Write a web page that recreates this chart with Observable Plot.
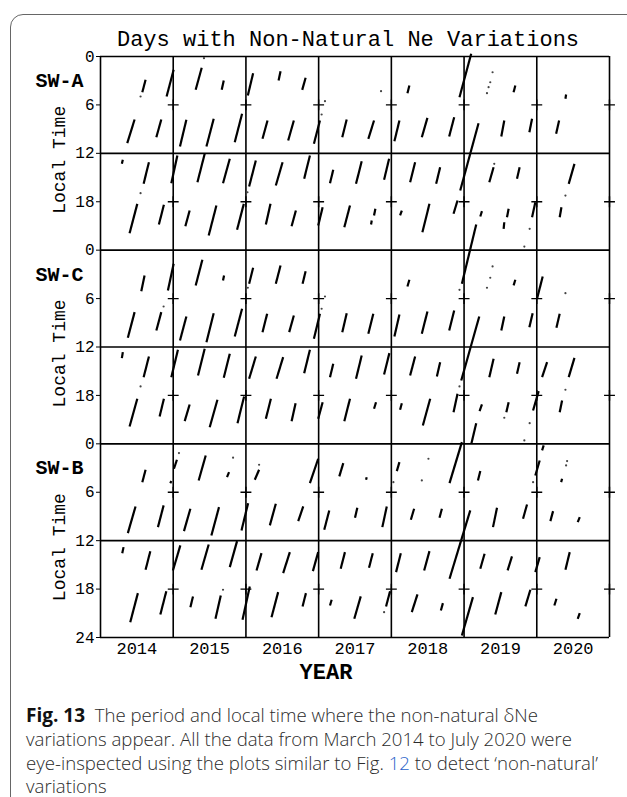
<!DOCTYPE html>
<html><head><meta charset="utf-8">
<script src="https://cdn.jsdelivr.net/npm/d3@7"></script>
<script src="https://cdn.jsdelivr.net/npm/@observablehq/plot@0.6"></script>
<style>
html,body{margin:0;padding:0;background:#fff;width:627px;height:797px;overflow:hidden;}
#box{position:absolute;left:10px;top:14px;width:700px;height:900px;border:1.5px solid #666;border-radius:13px;}
#chart{position:absolute;left:0;top:0;}
#cap{position:absolute;left:26px;top:703px;font-family:"Open Sans","Noto Sans",sans-serif;font-weight:300;font-size:18.6px;line-height:23.4px;color:#2b2b2b;white-space:nowrap;}
#cap b{color:#111;font-weight:700;font-size:19px;}
#cap .ref{color:#2a62c9;}
</style></head><body>
<div id="box"></div>
<div id="chart"></div>
<div id="cap"><b>Fig. 13</b>&nbsp; The period and local time where the non-natural δNe<br>variations appear. All the data from March 2014 to July 2020 were<br>eye-inspected using the plots similar to Fig. <span class="ref">12</span> to detect ‘non-natural’<br>variations</div>
<script>
const title = "Days with Non-Natural Ne Variations";
const panels = ["SW-A", "SW-C", "SW-B"];
const yearLabels = [2014, 2015, 2016, 2017, 2018, 2019, 2020];

// segments: [startYear, startLT, endYear, endLT]
const segA = [
[2014.575,4.42,2014.620,2.89],[2014.909,4.96,2015.006,1.65],[2014.368,10.74,2014.469,7.81],[2014.768,10.00,2014.836,7.81],
[2014.294,13.30,2014.307,12.80],[2014.593,15.78,2014.666,13.10],[2014.400,21.90,2014.506,18.26],[2014.803,20.82,2014.872,18.38],
[2015.309,4.13,2015.392,1.40],[2015.667,4.13,2015.695,2.97],[2015.093,11.15,2015.181,7.84],[2015.457,11.15,2015.557,7.72],
[2015.846,10.62,2015.947,7.10],[2014.974,15.70,2015.057,12.27],[2015.333,15.58,2015.433,12.06],[2015.685,15.70,2015.778,12.68],
[2015.167,21.03,2015.226,19.09],[2015.488,22.18,2015.594,18.47],[2015.878,21.48,2015.971,18.26],
[2016.026,4.83,2016.099,2.07],[2016.449,2.97,2016.476,1.82],[2016.774,4.13,2016.821,2.64],[2016.228,10.20,2016.297,7.93],
[2016.581,10.41,2016.659,7.93],[2016.935,10.82,2017.018,7.93],[2016.044,16.11,2016.136,12.89],[2016.411,15.99,2016.504,13.10],
[2016.801,15.16,2016.880,12.27],[2016.274,20.82,2016.338,18.26],[2016.628,21.03,2016.687,19.09],
[2017.325,10.00,2017.386,7.81],[2017.683,10.20,2017.762,7.93],[2017.156,15.70,2017.201,14.04],[2017.514,15.78,2017.592,12.98],
[2017.900,15.28,2017.969,12.68],[2016.994,20.94,2017.055,18.68],[2017.353,21.15,2017.431,18.47],[2017.762,19.70,2017.780,18.87],
[2017.721,20.82,2017.730,20.32],
[2018.221,4.55,2018.248,3.59],[2018.042,10.50,2018.111,7.93],[2018.419,10.00,2018.496,7.60],[2018.795,9.91,2018.864,7.52],
[2018.937,5.04,2019.098,-0.33],[2018.947,16.61,2019.199,8.27],[2018.258,15.58,2018.327,13.10],[2018.616,15.78,2018.671,13.72],
[2018.120,19.70,2018.144,19.09],[2018.427,21.77,2018.524,18.26],[2018.855,19.49,2018.910,17.85],[2018.970,28.17,2019.167,20.82],
[2019.681,4.42,2019.705,3.59],[2019.512,9.91,2019.553,7.93],[2019.898,9.38,2019.935,7.72],[2019.347,15.58,2019.406,13.72],
[2019.728,15.16,2019.764,13.72],[2019.223,19.83,2019.246,19.17],[2019.590,19.92,2019.613,18.87],[2019.544,21.35,2019.553,20.54],
[2019.935,19.92,2019.980,18.06],
[2020.394,5.24,2020.403,4.71],[2020.266,9.58,2020.307,7.93],[2020.439,15.78,2020.518,13.30],[2020.315,19.92,2020.339,18.68]
];
const segC = [
[2014.561,5.08,2014.606,3.14],[2014.927,5.00,2015.006,1.69],[2014.376,10.86,2014.469,7.68],[2014.768,9.95,2014.836,7.68],
[2014.294,13.38,2014.307,12.64],[2014.593,15.74,2014.666,13.17],[2014.400,21.85,2014.506,18.42],[2014.813,20.61,2014.872,18.42],
[2015.309,4.37,2015.401,1.19],[2015.685,3.76,2015.699,3.14],[2015.093,11.19,2015.181,8.22],[2015.457,11.40,2015.557,7.81],
[2015.846,10.70,2015.947,7.26],[2014.974,15.74,2015.065,12.34],[2015.341,15.53,2015.433,12.22],[2015.695,15.81,2015.778,12.84],
[2015.158,21.19,2015.226,19.12],[2015.502,21.94,2015.608,18.54],[2015.884,21.44,2015.975,18.13],
[2016.044,4.16,2016.099,2.18],[2016.411,4.16,2016.476,1.90],[2016.779,4.16,2016.821,2.60],[2016.228,10.16,2016.292,7.88],
[2016.595,10.16,2016.659,8.09],[2016.935,10.98,2017.018,7.88],[2016.044,15.94,2016.136,13.17],[2016.421,15.94,2016.512,13.26],
[2016.801,15.24,2016.880,12.34],[2016.274,20.90,2016.343,18.42],[2016.628,21.19,2016.683,18.96],
[2017.325,10.16,2017.386,7.81],[2017.683,10.36,2017.752,7.88],[2017.156,15.74,2017.201,14.08],[2017.514,15.94,2017.592,13.05],
[2017.900,15.40,2017.973,12.76],[2016.994,20.90,2017.055,18.84],[2017.353,21.19,2017.431,18.42],[2017.762,19.66,2017.789,18.84],
[2018.221,4.50,2018.248,3.67],[2018.042,10.70,2018.111,7.97],[2018.419,10.36,2018.496,7.60],[2018.795,9.95,2018.864,7.48],
[2018.258,15.53,2018.327,13.17],[2018.626,15.65,2018.671,13.88],[2018.120,19.78,2018.144,18.96],[2018.433,21.73,2018.534,18.42],
[2018.855,20.08,2018.910,17.80],[2018.961,16.15,2019.209,8.22],
[2019.681,4.37,2019.705,3.67],[2019.512,9.95,2019.553,8.22],[2019.898,9.54,2019.943,7.81],[2019.347,15.74,2019.406,13.46],
[2019.728,15.32,2019.764,13.88],[2019.213,19.95,2019.246,19.12],[2019.581,20.08,2019.613,18.84],[2019.949,19.87,2020.026,17.47],
[2019.100,24.00,2019.167,21.44],
[2020.004,6.02,2020.081,3.26],[2020.270,9.62,2020.315,7.88],[2020.073,15.74,2020.142,13.88],[2020.439,15.74,2020.518,13.34],
[2020.315,20.08,2020.348,18.63]
];
const segB = [
[2014.575,4.75,2014.620,3.21],[2014.960,4.87,2014.974,4.62],[2014.376,11.07,2014.482,7.76],[2014.790,10.32,2014.868,7.63],
[2014.299,13.55,2014.317,12.80],[2014.620,15.60,2014.685,13.30],[2014.409,22.10,2014.514,18.50],[2014.823,21.14,2014.905,18.26],
[2015.010,3.09,2015.051,1.97],[2015.350,4.54,2015.447,1.44],[2015.740,4.13,2015.768,3.51],[2015.148,10.82,2015.236,8.04],
[2015.525,11.35,2015.630,7.84],[2015.939,10.73,2016.030,7.35],[2014.996,15.69,2015.098,12.59],[2015.388,15.60,2015.488,12.47],
[2015.778,15.28,2015.878,12.06],[2015.236,20.24,2015.272,18.91],[2015.581,21.68,2015.654,18.79],[2015.953,21.80,2016.053,17.67],
[2016.122,4.45,2016.181,3.21],[2016.880,4.87,2016.994,1.85],[2016.329,10.11,2016.411,7.42],[2016.719,9.58,2016.788,7.76],
[2016.146,15.69,2016.214,13.55],[2016.512,16.02,2016.604,13.42],[2016.921,15.78,2016.994,13.42],[2016.352,21.48,2016.443,18.38],
[2016.779,20.15,2016.825,18.50],
[2017.284,4.04,2017.339,2.39],[2017.652,4.45,2017.661,4.13],[2017.077,10.65,2017.146,8.25],[2017.500,9.16,2017.532,7.92],
[2017.876,10.32,2017.937,7.76],[2017.303,15.48,2017.362,13.42],[2017.693,15.36,2017.744,13.55],[2017.156,20.03,2017.179,19.32],
[2017.490,21.68,2017.579,18.91],[2017.927,20.15,2017.982,18.26],
[2018.075,3.38,2018.111,2.27],[2018.800,4.87,2018.970,-0.21],[2018.268,9.41,2018.313,8.04],[2018.662,9.16,2018.695,8.04],
[2018.065,15.90,2018.130,13.55],[2018.451,15.69,2018.524,13.30],[2018.800,16.72,2019.085,8.25],[2018.281,20.86,2018.359,18.66],
[2018.681,20.65,2018.709,19.74],[2018.970,23.75,2019.122,19.00],
[2019.191,4.54,2019.223,3.38],[2019.398,10.32,2019.453,7.92],[2019.811,9.28,2019.866,7.51],[2019.223,15.48,2019.282,13.62],
[2019.599,15.69,2019.659,13.95],[2019.429,21.14,2019.512,18.38],[2019.843,20.15,2019.912,18.08],[2019.980,15.90,2020.040,14.04],
[2020.073,0.82,2020.095,0.20],[2019.980,3.92,2020.040,2.06],
[2020.335,4.75,2020.348,4.33],[2020.187,9.58,2020.224,8.34],[2020.563,9.70,2020.591,9.08],[2020.394,15.60,2020.453,13.42],
[2020.242,20.03,2020.270,19.20],[2020.563,21.68,2020.591,20.98]
];
// isolated points: [year, LT]
const dotsA = [
[2014.551,4.96],[2014.551,16.94],[2015.423,0.21],[2017.087,5.54],[2017.041,7.19],[2016.021,16.82],[2017.858,4.30],
[2019.392,1.95],[2019.360,3.19],[2019.337,3.80],[2019.315,4.55],[2019.415,13.30],[2019.902,21.35],[2019.829,23.55],[2020.394,17.23]
];
const dotsC = [
[2014.868,6.98],[2014.551,16.89],[2016.026,4.66],[2017.087,5.74],[2017.041,7.26],[2018.937,4.91],[2018.937,16.89],
[2019.392,2.02],[2019.360,3.42],[2019.315,4.66],[2019.553,20.77],[2019.902,21.44],[2019.829,23.58],[2020.394,5.33],[2020.394,17.30]
];
const dotsB = [
[2015.079,1.15],[2015.823,1.72],[2015.685,18.08],[2016.181,2.59],[2017.900,20.86],[2018.510,1.85],[2018.028,4.75],
[2018.419,4.54],[2019.949,4.75],[2020.417,2.14],[2020.403,2.68]
];

const segs = [segA, segC, segB];
const dots = [dotsA, dotsC, dotsB];
const segRows = segs.flatMap((s, p) => s.map(([t1, l1, t2, l2]) => ({t1, t2, y1: p * 24 + l1, y2: p * 24 + l2})));
const dotRows = dots.flatMap((s, p) => s.map(([t, l]) => ({t, y: p * 24 + l})));
const boundaries = d3.range(2014, 2022);
const crosses = boundaries.slice(1).flatMap(x => [0, 1, 2].flatMap(p => [6, 18].map(l => ({x, y: p * 24 + l}))));
const yTicks = d3.range(0, 73, 6);

const chart = Plot.plot({
  width: 627, height: 700,
  marginTop: 56, marginLeft: 100, marginRight: 18, marginBottom: 63,
  style: {fontFamily: '"Courier New","Liberation Mono",monospace', fontSize: "16px", color: "#000", background: "transparent", overflow: "visible"},
  x: {domain: [2014, 2021], ticks: yearLabels.map(y => y + 0.5), tickFormat: d => String(Math.floor(d)), tickSize: 0, tickPadding: 4, label: null},
  y: {domain: [0, 72], reverse: true, ticks: yTicks, tickFormat: d => d === 72 ? "24" : String(d % 24), tickSize: 4, tickPadding: 2, label: null},
  marks: [
    Plot.ruleX(boundaries, {stroke: "#000", strokeWidth: 1.6}),
    Plot.ruleY(d3.range(0, 73, 12), {stroke: "#000", strokeWidth: 1.6}),
    Plot.dot(crosses, {x: "x", y: "y", symbol: "plus", r: 3.6, stroke: "#000", strokeWidth: 1.4}),
    Plot.link(segRows, {x1: "t1", y1: "y1", x2: "t2", y2: "y2", stroke: "#000", strokeWidth: 2.2}),
    Plot.dot(dotRows, {x: "t", y: "y", r: 1.1, fill: "#444", stroke: null}),
    Plot.text(panels, {x: () => 2014, y: (d, i) => i * 24 + 3, dx: -41, text: d => d, fontWeight: "bold", fontSize: 20, textAnchor: "middle", lineAnchor: "middle"}),
    Plot.text(panels, {x: () => 2014, y: (d, i) => i * 24 + 12.8, dx: -41, text: () => "Local Time", rotate: -90, fontSize: 18, textAnchor: "middle", lineAnchor: "middle"}),
    Plot.text([title], {frameAnchor: "top", dy: -18, dx: -7, text: d => d, fontSize: 22, lineAnchor: "middle"}),
    Plot.text(["YEAR"], {frameAnchor: "bottom", dy: 34, dx: -29, text: d => d, fontSize: 22, fontWeight: "bold", lineAnchor: "middle"})
  ]
});
document.getElementById("chart").appendChild(chart);
d3.select(chart).selectAll('g[aria-label^="x-axis"] text').attr("font-size", 17);
</script>
</body></html>
